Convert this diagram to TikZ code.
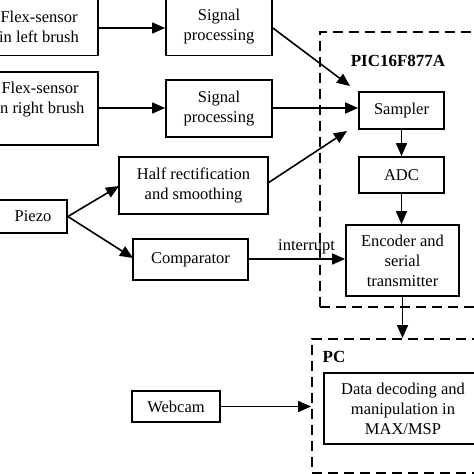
\documentclass[tikz,border=0pt]{standalone}
\usepackage{fontspec}
\setmainfont{Liberation Serif}
\usetikzlibrary{arrows.meta}
\tikzset{
  box/.style={draw, line width=1.7pt, align=center, inner sep=0pt, font=\fontsize{16.5}{20}\selectfont},
  dbox/.style={draw, line width=1.9pt, dash pattern=on 10pt off 6pt, inner sep=0pt},
  lbl/.style={inner sep=0pt, font=\fontsize{16.5}{20}\selectfont},
  blbl/.style={inner sep=0pt, font=\fontsize{17}{20}\selectfont\bfseries},
  arr/.style={line width=1.6pt, -{Triangle[length=13pt,width=11pt]}}
}
\begin{document}
\begin{tikzpicture}[x=1pt,y=-1pt]
\useasboundingbox (0,0) rectangle (474,474);
\clip (0,0) rectangle (474,474);
% dashed containers
\node[dbox, minimum width=170pt, minimum height=275pt] (pic) at (405,169.5) {};
\node[dbox, minimum width=178pt, minimum height=134pt] (pc) at (401,406) {};
\node[blbl] (piclbl) at (398,61) {PIC16F877A};
\node[blbl] (pclbl) at (334,357) {PC};
% boxes
\node[box, minimum width=118pt, minimum height=57pt] (fl) at (39,27) {Flex-sensor\\in left brush};
\node[box, minimum width=118pt, minimum height=73pt] (fr) at (39,108.5) {};
\node[lbl, align=center] (frt) at (40,100) {Flex-sensor\\in right brush};
\node[box, minimum width=106pt, minimum height=57pt] (sp1) at (219,27) {Signal\\processing};
\node[box, minimum width=106pt, minimum height=57pt] (sp2) at (219,108.5) {Signal\\processing};
\node[box, minimum width=149pt, minimum height=57pt] (hr) at (193.5,185.5) {Half rectification\\and smoothing};
\node[box, minimum width=115pt, minimum height=41pt] (comp) at (190.5,259.5) {Comparator};
\node[box, minimum width=68pt, minimum height=33pt] (piezo) at (33,216.5) {Piezo};
\node[box, minimum width=85pt, minimum height=37pt] (samp) at (401.5,110.5) {Sampler};
\node[box, minimum width=85pt, minimum height=36pt] (adc) at (401.5,175) {ADC};
\node[box, minimum width=113pt, minimum height=71pt] (enc) at (402.5,260.5) {Encoder and\\serial\\transmitter};
\node[box, minimum width=158pt, minimum height=71pt] (dd) at (403,408.5) {Data decoding and\\manipulation in\\MAX/MSP};
\node[box, minimum width=88pt, minimum height=31pt] (web) at (176,406.5) {Webcam};
% free ends
\coordinate (s1) at (350,86);
\coordinate (s3) at (347,131);
\coordinate (hrin) at (119,186);
\coordinate (hrout) at (268,183);
\coordinate (compin) at (133,258);
% connectors
\draw[arr] (fl.east |- 0,28) -- (sp1.west |- 0,28);
\draw[arr] (fr.east |- 0,108) -- (sp2.west |- 0,108);
\draw[arr] (sp1.east |- 0,28) -- (s1);
\draw[arr] (sp2.east |- 0,108) -- (samp.west |- 0,108);
\draw[arr] (hrout) -- (s3);
\draw[arr] (piezo.east) -- (hrin);
\draw[arr] (piezo.east) -- (compin);
\draw[arr] (comp.east |- 0,259) -- node[lbl, above=4pt, pos=0.6] (intl) {interrupt} (enc.west |- 0,259);
\draw[arr] (samp.south) -- (adc.north);
\draw[arr] (adc.south) -- (adc.south |- enc.north);
\draw[arr] (enc.south) -- (enc.south |- pc.north);
\draw[arr] (web.east) -- (pc.west |- web.east);
\end{tikzpicture}
\end{document}
